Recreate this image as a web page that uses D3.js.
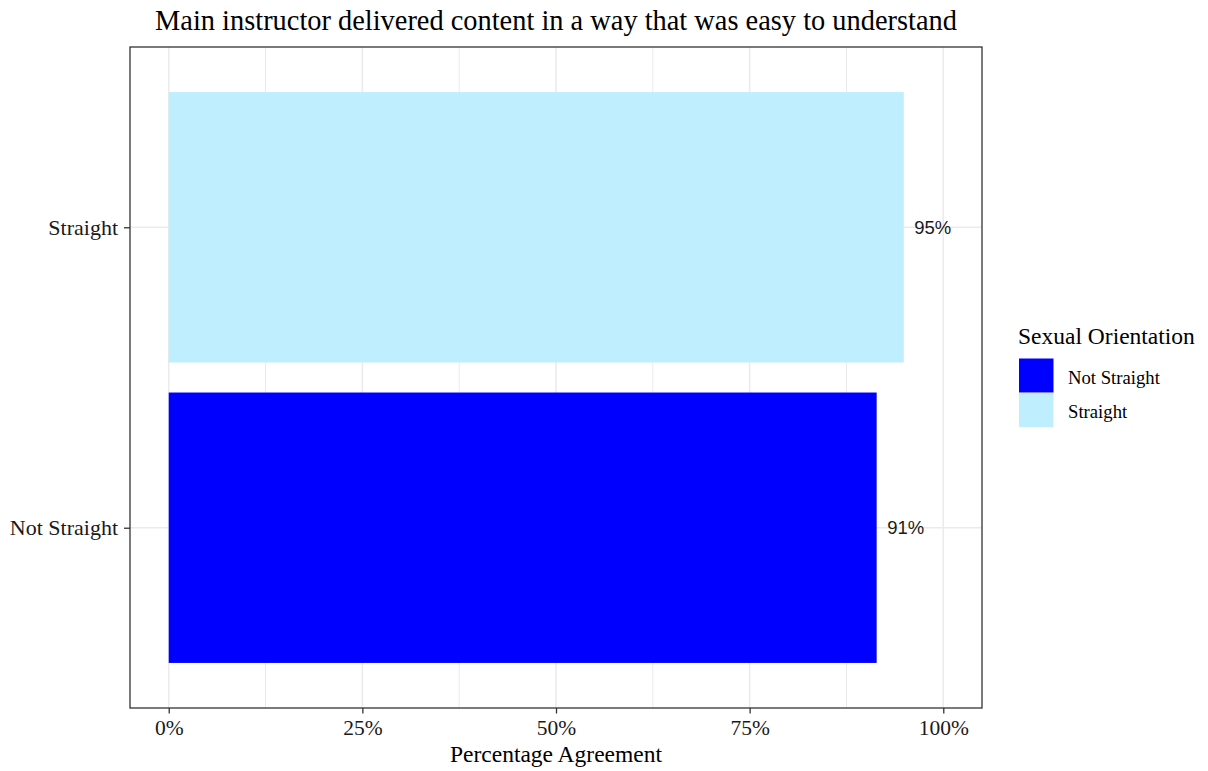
<!DOCTYPE html>
<html>
<head>
<meta charset="utf-8">
<script src="https://cdn.jsdelivr.net/npm/d3@7"></script>
<style>
  html, body { margin: 0; padding: 0; background: #fff; }
  svg text { font-family: "Liberation Serif", "Times New Roman", serif; }
</style>
</head>
<body>
<svg id="chart" width="1208" height="771"></svg>
<script>
// Data
const categories = ["Not Straight", "Straight"];
const values = [0.914, 0.949];
const colors = ["#0000FF", "#BFEFFF"];
const xTicks = [0, 0.25, 0.5, 0.75, 1];
const xMinor = [0.125, 0.375, 0.625, 0.875];
const titleText = "Main instructor delivered content in a way that was easy to understand";
const xTitle = "Percentage Agreement";
const legendTitle = "Sexual Orientation";

const svg = d3.select("#chart");
const panel = { left: 130, top: 47, right: 982, bottom: 708 };

// Continuous x with 5% padding on each side of [0, 1]
const x = d3.scaleLinear().domain([-0.05, 1.05]).range([panel.left, panel.right]);
// Discrete y: positions 1..n with 0.6 padding on each end
const yPos = d3.scaleLinear().domain([0.4, categories.length + 0.6]).range([panel.bottom, panel.top]);
const bandPx = yPos(0) - yPos(1);
const barH = bandPx * 0.9;

const g = svg.append("g");

// Grid lines
g.selectAll(".minor").data(xMinor).enter().append("line")
  .attr("x1", d => x(d)).attr("x2", d => x(d))
  .attr("y1", panel.top).attr("y2", panel.bottom)
  .attr("stroke", "#ebebeb").attr("stroke-width", 1);
g.selectAll(".major").data(xTicks).enter().append("line")
  .attr("x1", d => x(d)).attr("x2", d => x(d))
  .attr("y1", panel.top).attr("y2", panel.bottom)
  .attr("stroke", "#ebebeb").attr("stroke-width", 1.6);
g.selectAll(".hmajor").data(categories).enter().append("line")
  .attr("x1", panel.left).attr("x2", panel.right)
  .attr("y1", (d, i) => yPos(i + 1)).attr("y2", (d, i) => yPos(i + 1))
  .attr("stroke", "#ebebeb").attr("stroke-width", 1.6);

// Bars
g.selectAll(".bar").data(categories).enter().append("rect")
  .attr("x", x(0))
  .attr("y", (d, i) => yPos(i + 1) - barH / 2)
  .attr("width", (d, i) => x(values[i]) - x(0))
  .attr("height", barH)
  .attr("fill", (d, i) => colors[i]);

// Value labels
const pct = d3.format(".0%");
g.selectAll(".val").data(categories).enter().append("text")
  .attr("x", (d, i) => x(values[i]) + 10.5)
  .attr("y", (d, i) => yPos(i + 1))
  .attr("dy", "0.35em")
  .style("font-family", "'Liberation Sans', Arial, sans-serif")
  .style("font-size", "18.5px")
  .attr("fill", "#1a1a1a")
  .text((d, i) => pct(values[i]));

// Panel border
g.append("rect")
  .attr("x", panel.left).attr("y", panel.top)
  .attr("width", panel.right - panel.left).attr("height", panel.bottom - panel.top)
  .attr("fill", "none").attr("stroke", "#333").attr("stroke-width", 1.3);

// X axis
const xAxis = svg.append("g").attr("transform", `translate(0,${panel.bottom})`)
  .call(d3.axisBottom(x).tickValues(xTicks).tickFormat(d3.format(".0%")).tickSize(5.5));
xAxis.select(".domain").remove();
xAxis.selectAll("line").attr("stroke", "#333").attr("stroke-width", 1.3);
xAxis.selectAll("text").style("font-size", "21.5px").attr("fill", "#1a1a1a")
  .attr("y", 27).attr("dy", "0")
  .style("font-family", "'Liberation Serif', serif");

// Y axis
const yScaleBand = d3.scalePoint().domain(categories).range([yPos(1), yPos(categories.length)]);
const yAxis = svg.append("g").attr("transform", `translate(${panel.left},0)`)
  .call(d3.axisLeft(yScaleBand).tickSize(6).tickPadding(6));
yAxis.select(".domain").remove();
yAxis.selectAll("line").attr("stroke", "#333").attr("stroke-width", 1.3);
yAxis.selectAll("text").style("font-size", "22px").attr("fill", "#1a1a1a")
  .style("font-family", "'Liberation Serif', serif");

// Title
svg.append("text")
  .attr("x", (panel.left + panel.right) / 2).attr("y", 30)
  .attr("text-anchor", "middle")
  .style("font-size", "28.4px").attr("fill", "#000")
  .text(titleText);

// X axis title
svg.append("text")
  .attr("x", (panel.left + panel.right) / 2).attr("y", 762)
  .attr("text-anchor", "middle")
  .style("font-size", "23.5px").attr("fill", "#000")
  .text(xTitle);

// Legend
const legend = svg.append("g").attr("transform", "translate(1019,0)");
legend.append("text").attr("x", -1).attr("y", 344)
  .style("font-size", "23.5px").attr("fill", "#000").text(legendTitle);
const keySize = 34.5;
legend.selectAll(".key").data(categories).enter().append("rect")
  .attr("x", 0).attr("y", (d, i) => 358.5 + i * keySize)
  .attr("width", keySize).attr("height", keySize - 0.5)
  .attr("fill", (d, i) => colors[i]);
legend.selectAll(".ltext").data(categories).enter().append("text")
  .attr("x", 49).attr("y", (d, i) => 358.5 + i * keySize + keySize / 2 + 8)
  .style("font-size", "18.7px").attr("fill", "#000")
  .text(d => d);
</script>
</body>
</html>
